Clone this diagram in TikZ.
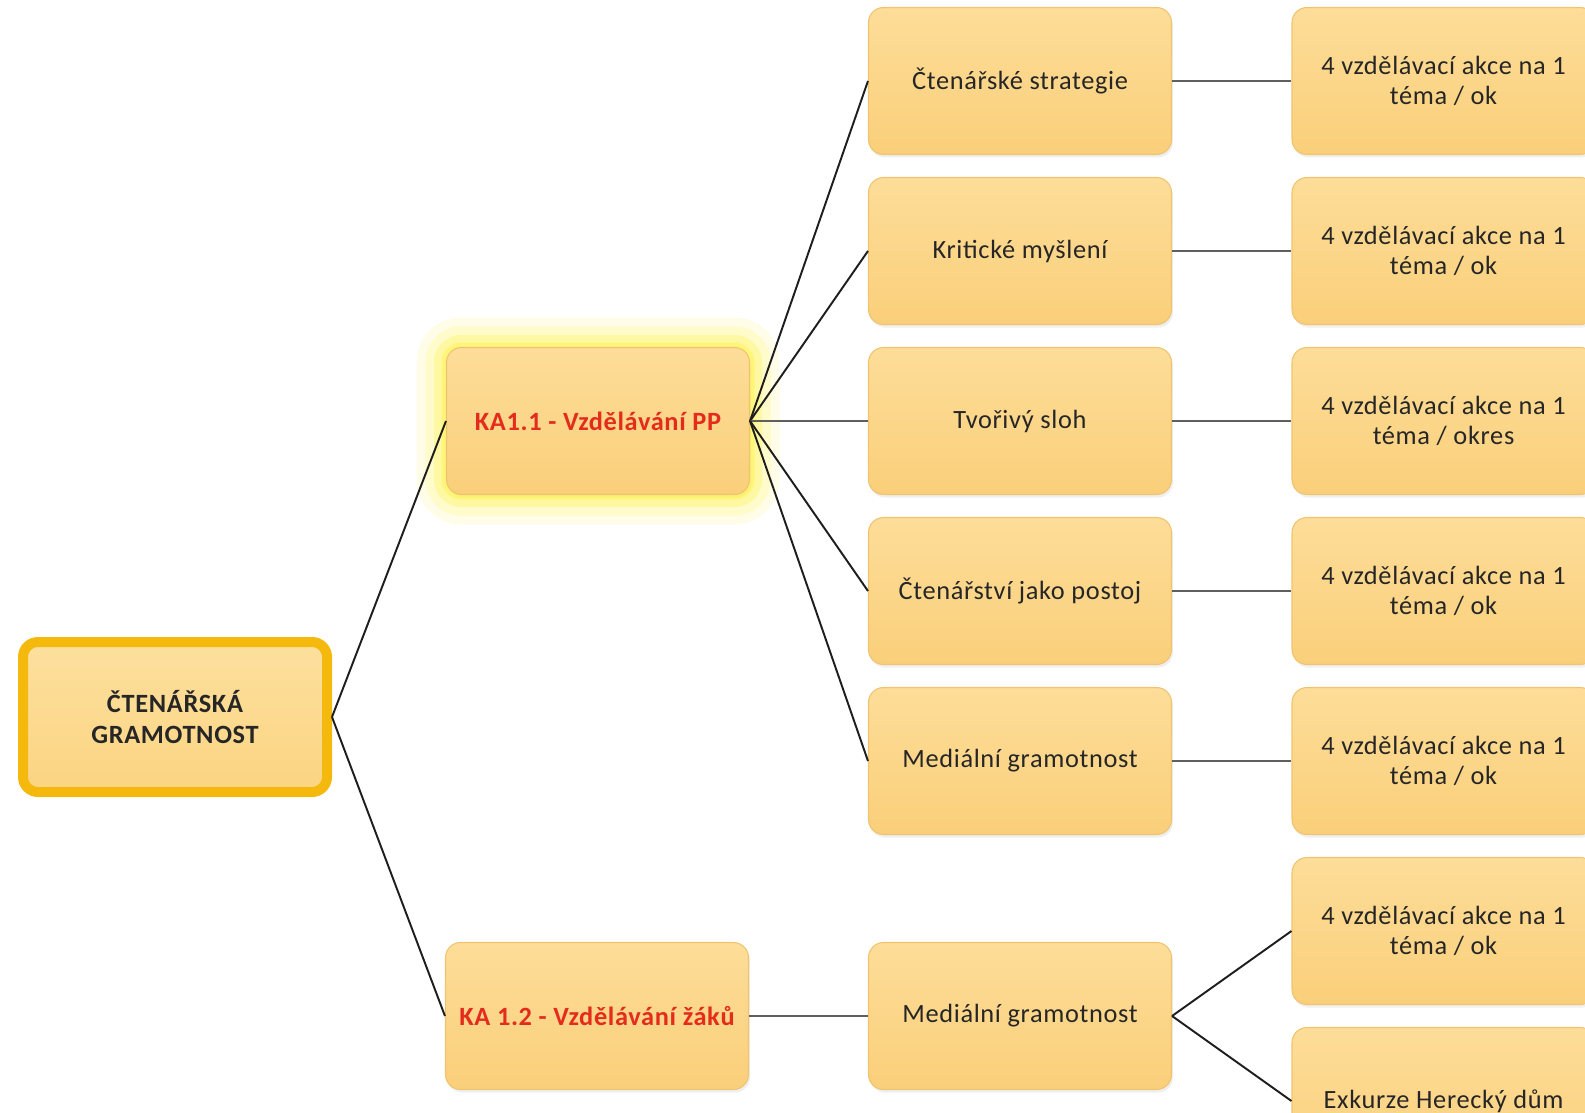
\documentclass[tikz,border=0pt]{standalone}
\usepackage{fontspec}
\setmainfont{Carlito}[LetterSpace=2.5]
\usetikzlibrary{positioning, shadows}
\definecolor{boxtop}{RGB}{253,221,153}
\definecolor{boxbot}{RGB}{250,207,122}
\definecolor{boxline}{RGB}{240,196,110}
\definecolor{rootline}{RGB}{245,184,12}
\definecolor{roottop}{RGB}{253,224,158}
\definecolor{rootbot}{RGB}{251,212,130}
\definecolor{kared}{RGB}{228,44,28}
\definecolor{glowyellow}{RGB}{255,242,70}
\definecolor{connline}{RGB}{30,30,30}
\definecolor{flatline}{RGB}{95,95,95}
\newcommand{\boxfont}{\fontsize{15}{17.5}\selectfont}

\begin{document}
\begin{tikzpicture}
\tikzstyle{every node}+=[font=\boxfont, align=center]
\tikzstyle{box}=[draw=boxline, line width=0.6pt, top color=boxtop, bottom color=boxbot, rounded corners=0.3cm, minimum width=6.06cm, minimum height=2.94cm, text=black!85, drop shadow={opacity=0.12, shadow xshift=0.03cm, shadow yshift=-0.06cm}]
\tikzstyle{rootbox}=[box, draw=rootline, line width=0.2cm, top color=roottop, bottom color=rootbot, minimum width=6.08cm, minimum height=3cm, font=\boxfont\bfseries]
\tikzstyle{redlabel}=[text=kared, font=\boxfont\bfseries]
\tikzstyle{glow}=[preaction={draw=glowyellow, line width=1.2cm, draw opacity=0.12}, preaction={draw=glowyellow, line width=0.85cm, draw opacity=0.18}, preaction={draw=glowyellow, line width=0.5cm, draw opacity=0.3}, preaction={draw=glowyellow, line width=0.2cm, draw opacity=0.45}]
\tikzstyle{conn}=[draw=connline, line width=1.1pt]
\tikzstyle{flat}=[draw=flatline, line width=1.6pt]
\useasboundingbox (0,0) rectangle (31.7,-22.26);
\fill [white] (0,0) rectangle (31.7,-22.26);
\node [rootbox] (gram) at (3.5,-14.34) {ČTENÁŘSKÁ\\GRAMOTNOST};
\node [box, glow, redlabel] (ka11) at (11.96,-8.42) {KA1.1 - Vzdělávání PP};
\node [box, redlabel] (ka12) at (11.94,-20.32) {KA 1.2 - Vzdělávání žáků};
\node [box] (strat) at (20.4,-1.62) {Čtenářské strategie};
\node [box] (krit) at (20.4,-5.02) {Kritické myšlení};
\node [box] (sloh) at (20.4,-8.42) {Tvořivý sloh};
\node [box] (postoj) at (20.4,-11.82) {Čtenářství jako postoj};
\node [box] (media) at (20.4,-15.22) {Mediální gramotnost};
\node [box] (mediazak) at (20.4,-20.32) {Mediální gramotnost};
\node [box] (akce1) at (28.87,-1.62) {4 vzdělávací akce na 1\\téma / ok};
\node [box] (akce2) at (28.87,-5.02) {4 vzdělávací akce na 1\\téma / ok};
\node [box] (akce3) at (28.87,-8.42) {4 vzdělávací akce na 1\\téma / okres};
\node [box] (akce4) at (28.87,-11.82) {4 vzdělávací akce na 1\\téma / ok};
\node [box] (akce5) at (28.87,-15.22) {4 vzdělávací akce na 1\\téma / ok};
\node [box] (akce6) at (28.87,-18.62) {4 vzdělávací akce na 1\\téma / ok};
\node [box] (exkurze) at (28.87,-22.02) {Exkurze Herecký dům};
\draw [conn] (gram.east) -- (ka11.west);
\draw [conn] (gram.east) -- (ka12.west);
\draw [conn] (ka11.east) -- (strat.west);
\draw [conn] (ka11.east) -- (krit.west);
\draw [flat] (ka11.east) -- (sloh.west);
\draw [conn] (ka11.east) -- (postoj.west);
\draw [conn] (ka11.east) -- (media.west);
\draw [flat] (ka12.east) -- (mediazak.west);
\draw [flat] (strat.east) -- (akce1.west);
\draw [flat] (krit.east) -- (akce2.west);
\draw [flat] (sloh.east) -- (akce3.west);
\draw [flat] (postoj.east) -- (akce4.west);
\draw [flat] (media.east) -- (akce5.west);
\draw [conn] (mediazak.east) -- (akce6.west);
\draw [conn] (mediazak.east) -- (exkurze.west);
\end{tikzpicture}
\end{document}
